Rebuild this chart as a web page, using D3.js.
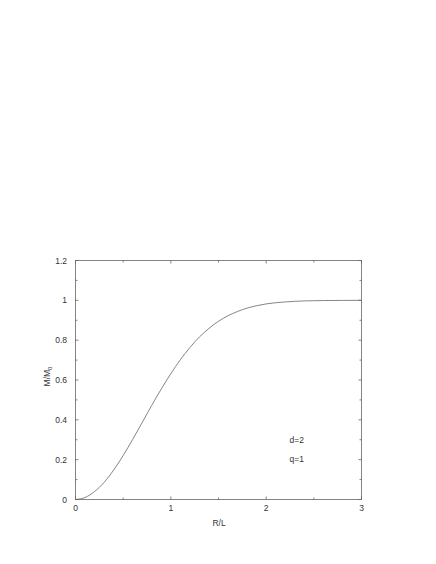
<!DOCTYPE html>
<html>
<head>
<meta charset="utf-8">
<script src="https://cdn.jsdelivr.net/npm/d3@7"></script>
<style>
    html, body { margin: 0; padding: 0; background: #fff; }
    svg { display: block; }
    text { font-family: "Liberation Sans", Arial, sans-serif; font-size: 8.5px; fill: #333; }
</style>
</head>
<body>
<div id="chart"></div>
<script>
'use strict';

// Values (R/L against M/M0).
var rValues = [0, 0.1, 0.2, 0.3, 0.4, 0.5, 0.6, 0.7, 0.8, 0.9, 1.0,
               1.1, 1.2, 1.3, 1.4, 1.5, 1.6, 1.7, 1.8, 1.9, 2.0,
               2.1, 2.2, 2.3, 2.4, 2.5, 2.6, 2.7, 2.8, 2.9, 3.0];
var mValues = [0, 0.01, 0.04, 0.086, 0.148, 0.221, 0.302, 0.387, 0.473, 0.555, 0.632,
               0.702, 0.763, 0.816, 0.859, 0.895, 0.923, 0.944, 0.961, 0.973, 0.982,
               0.988, 0.992, 0.995, 0.997, 0.998, 0.999, 0.9993, 0.9996, 0.9998, 1];
var xTickLabels = [0, 1, 2, 3];
var yTickLabels = [0, 0.2, 0.4, 0.6, 0.8, 1, 1.2];
var xMinorTicks = [0.5, 1.5, 2.5];
var yMinorTicks = [0.1, 0.3, 0.5, 0.7, 0.9, 1.1];
var notes = ['d=2', 'q=1'];

var width  = 436,
    height = 564,
    margin = {top: 260, right: 75, bottom: 65, left: 75},
    innerW = width - margin.left - margin.right,
    innerH = height - margin.top - margin.bottom,
    lineColor = '#666';

var svg = d3.select('#chart').append('svg')
    .attr('width', width)
    .attr('height', height);

var g = svg.append('g')
    .attr('transform', 'translate(' + margin.left + ',' + margin.top + ')');

var x = d3.scaleLinear().domain([0, 3]).range([0, innerW]);
var y = d3.scaleLinear().domain([0, 1.2]).range([innerH, 0]);

// frame
g.append('rect')
    .attr('x', 0.5)
    .attr('y', 0.5)
    .attr('width', innerW)
    .attr('height', innerH)
    .attr('fill', 'none')
    .attr('stroke', lineColor)
    .attr('stroke-width', 0.8);

// ticks: inward on all four sides
function drawTicks(values, len) {
    g.selectAll(null).data(values).enter().append('line')
        .attr('x1', function (d) { return x(d) + 0.5; })
        .attr('x2', function (d) { return x(d) + 0.5; })
        .attr('y1', innerH + 0.5)
        .attr('y2', innerH + 0.5 - len)
        .attr('stroke', lineColor).attr('stroke-width', 0.8);
    g.selectAll(null).data(values).enter().append('line')
        .attr('x1', function (d) { return x(d) + 0.5; })
        .attr('x2', function (d) { return x(d) + 0.5; })
        .attr('y1', 0.5)
        .attr('y2', 0.5 + len)
        .attr('stroke', lineColor).attr('stroke-width', 0.8);
}

function drawYTicks(values, len) {
    g.selectAll(null).data(values).enter().append('line')
        .attr('y1', function (d) { return y(d) + 0.5; })
        .attr('y2', function (d) { return y(d) + 0.5; })
        .attr('x1', 0.5)
        .attr('x2', 0.5 + len)
        .attr('stroke', lineColor).attr('stroke-width', 0.8);
    g.selectAll(null).data(values).enter().append('line')
        .attr('y1', function (d) { return y(d) + 0.5; })
        .attr('y2', function (d) { return y(d) + 0.5; })
        .attr('x1', innerW + 0.5)
        .attr('x2', innerW + 0.5 - len)
        .attr('stroke', lineColor).attr('stroke-width', 0.8);
}

drawTicks(xTickLabels, 3);
drawTicks(xMinorTicks, 2);
drawYTicks(yTickLabels, 3);
drawYTicks(yMinorTicks, 2);

// tick labels
g.selectAll('.xlab').data(xTickLabels).enter().append('text')
    .attr('class', 'xlab')
    .attr('x', function (d) { return x(d) + 0.5; })
    .attr('y', innerH + 12)
    .attr('text-anchor', 'middle')
    .text(function (d) { return d; });

g.selectAll('.ylab').data(yTickLabels).enter().append('text')
    .attr('class', 'ylab')
    .attr('x', -8)
    .attr('y', function (d) { return y(d) + 3.5; })
    .attr('text-anchor', 'end')
    .text(function (d) { return d; });

// axis titles
g.append('text')
    .attr('x', innerW / 2 + 1)
    .attr('y', innerH + 27)
    .attr('text-anchor', 'middle')
    .text('R/L');

var yTitle = g.append('text')
    .attr('transform', 'translate(' + (-25) + ',' + (y(0.6) - 3) + ') rotate(-90)')
    .attr('text-anchor', 'middle');
yTitle.append('tspan').text('M/M');
yTitle.append('tspan').attr('dy', 2).style('font-size', '6px').text('0');

// curve
var line = d3.line()
    .x(function (d, i) { return x(rValues[i]) + 0.5; })
    .y(function (d) { return y(d) + 0.5; })
    .curve(d3.curveMonotoneX);

g.append('path')
    .datum(mValues)
    .attr('d', line)
    .attr('fill', 'none')
    .attr('stroke', lineColor)
    .attr('stroke-width', 0.8);

// notes
g.selectAll('.note').data(notes).enter().append('text')
    .attr('class', 'note')
    .attr('x', x(2.25))
    .attr('y', function (d, i) { return y(0.3) + 4 + i * 19; })
    .text(function (d) { return d; });
</script>
</body>
</html>
